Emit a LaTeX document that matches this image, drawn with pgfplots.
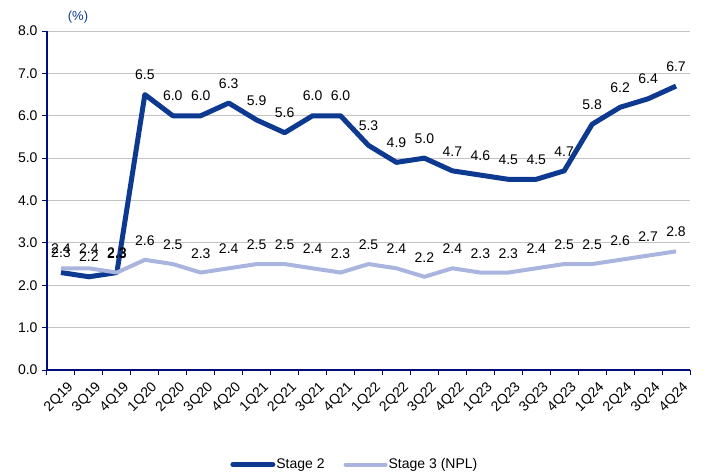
\documentclass[border=0pt]{standalone}
\usepackage{pgfplots}
\pgfplotsset{compat=1.18}
\usepackage{fontspec}
\setmainfont{Liberation Sans}
\definecolor{stagetwo}{HTML}{0D3A90}
\definecolor{stagethree}{HTML}{A9B5DF}
\definecolor{navy}{HTML}{000C80}
\definecolor{gridgray}{HTML}{C4C4C4}
\begin{document}
\begin{tikzpicture}
\path[use as bounding box] (-47pt,-102pt) rectangle (666pt,370pt);
\begin{axis}[
  scale only axis,
  width=643pt, height=339pt,
  xmin=-0.5, xmax=22.5,
  ymin=0, ymax=8,
  ytick={0,1,...,8},
  xtick={0,...,22},
  xticklabels={2Q19,3Q19,4Q19,1Q20,2Q20,3Q20,4Q20,1Q21,2Q21,3Q21,4Q21,1Q22,2Q22,3Q22,4Q22,1Q23,2Q23,3Q23,4Q23,1Q24,2Q24,3Q24,4Q24},
  minor xtick={-0.5,0.5,...,22.5},
  major x tick style={draw=none},
  minor tick length=5pt,
  major tick length=5pt,
  tick align=outside,
  tick style={navy, line width=1pt},
  axis x line*=bottom, axis y line*=left,
  x axis line style={navy, line width=1.5pt, -},
  y axis line style={navy, line width=1.5pt, -},
  ymajorgrids,
  grid style={gridgray, line width=1pt},
  /pgf/number format/assume math mode=true,
  yticklabel style={/pgf/number format/fixed, /pgf/number format/fixed zerofill, /pgf/number format/precision=1, font=\fontsize{14}{16}\selectfont, xshift=-1pt},
  xticklabel style={rotate=45, anchor=north east, font=\fontsize{14}{16}\selectfont, inner sep=1pt, yshift=-7pt, xshift=1pt},
  clip=false,
  nodes near coords,
  every node near coord/.append style={font=\fontsize{14}{16}\selectfont, black, yshift=9pt, /pgf/number format/fixed, /pgf/number format/fixed zerofill, /pgf/number format/precision=1},
  legend style={at={(axis description cs:0.478,-0.279)}, anchor=center, draw=none, legend columns=2, font=\fontsize{14}{16}\selectfont, /tikz/every even column/.append style={column sep=18pt}, nodes={inner xsep=1pt}},
  legend image code/.code={\draw[#1, line cap=round] (0pt,0pt) -- (40pt,0pt);},
]
\addplot[stagetwo, line width=5pt, line join=round] coordinates {
(0,2.3) (1,2.2) (2,2.3) (3,6.5) (4,6.0) (5,6.0) (6,6.3) (7,5.9) (8,5.6) (9,6.0) (10,6.0) (11,5.3) (12,4.9) (13,5.0) (14,4.7) (15,4.6) (16,4.5) (17,4.5) (18,4.7) (19,5.8) (20,6.2) (21,6.4) (22,6.7)};
\addlegendentry{Stage 2}
\addplot[stagethree, line width=4pt, line join=round] coordinates {
(0,2.4) (1,2.4) (2,2.3) (3,2.6) (4,2.5) (5,2.3) (6,2.4) (7,2.5) (8,2.5) (9,2.4) (10,2.3) (11,2.5) (12,2.4) (13,2.2) (14,2.4) (15,2.3) (16,2.3) (17,2.4) (18,2.5) (19,2.5) (20,2.6) (21,2.7) (22,2.8)};
\addlegendentry{Stage 3 (NPL)}
\end{axis}
\node[text=stagetwo, font=\fontsize{13}{15}\selectfont] at (31pt,353pt) {(\%)};
\end{tikzpicture}
\end{document}
